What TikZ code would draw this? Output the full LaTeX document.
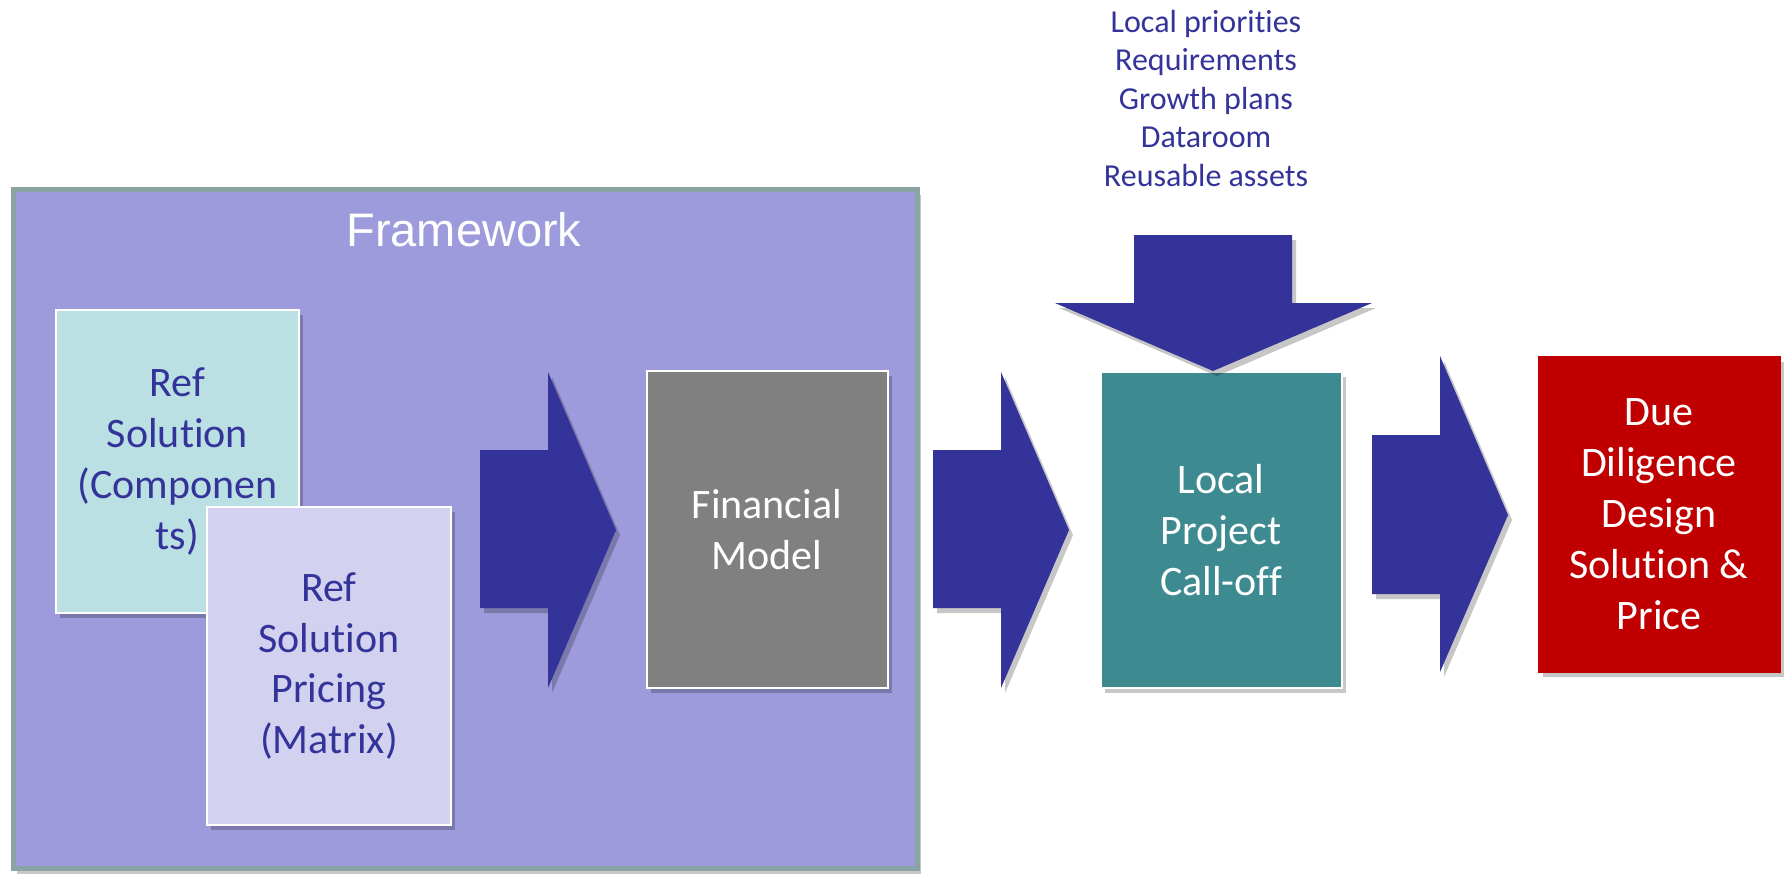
\documentclass[tikz,border=0pt]{standalone}
\usepackage{fontspec}
\setmainfont[Ligatures=NoCommon]{Carlito}
\newfontfamily\arialfont{Liberation Sans}
\definecolor{frameback}{RGB}{158,155,220}
\definecolor{frameline}{RGB}{138,163,163}
\definecolor{refteal}{RGB}{187,224,227}
\definecolor{reflilac}{RGB}{210,210,240}
\definecolor{modelgrey}{RGB}{128,128,128}
\definecolor{localteal}{RGB}{62,138,145}
\definecolor{dueRed}{RGB}{192,0,0}
\definecolor{inkblue}{RGB}{51,51,153}
\usetikzlibrary{shadows}
\tikzset{
    softshadow/.style={drop shadow={shadow xshift=2pt, shadow yshift=-2.5pt, opacity=0.22, fill=black}},
    stagebox/.style={rectangle, draw=white, line width=1pt, minimum width=120.5pt, minimum height=158pt,
                     align=center, font=\fontsize{21}{25.5}\selectfont, softshadow},
    bigarrow/.style={fill=inkblue, softshadow},
}

\begin{document}
\begin{tikzpicture}[x=0.5pt, y=-0.5pt]
    \useasboundingbox (0,0) rectangle (1789,874);

    \node[rectangle, draw=frameline, fill=frameback, line width=2.5pt, minimum width=452pt, minimum height=339.5pt, softshadow] (framework) at (465,529) {};
    \node[text=white, font=\arialfont\fontsize{23.5}{28}\selectfont] (frametitle) at (464,230) {Framework};

    \node[stagebox, fill=refteal, text=inkblue, minimum width=121.5pt, minimum height=151.5pt] (components) at (177.5,461.5) {Ref\\Solution\\(Componen\\ts)};
    \node[stagebox, fill=reflilac, text=inkblue, minimum width=122pt, minimum height=159pt] (pricing) at (329,666) {Ref\\Solution\\Pricing\\(Matrix)};

    \fill[bigarrow] (480,450) -- (548,450) -- (548,372) -- (616,530) -- (548,688) -- (548,608) -- (480,608) -- cycle;

    \node[stagebox, fill=modelgrey, text=white, minimum height=158.5pt] (model) at (767,529.5) {Financial\\Model};

    \fill[bigarrow] (933,450) -- (1001,450) -- (1001,372) -- (1069,530) -- (1001,688) -- (1001,608) -- (933,608) -- cycle;

    \node[stagebox, fill=localteal, text=white] (calloff) at (1221,530) {Local\\Project\\Call-off};

    \node[text=inkblue, align=center, font=\fontsize{16}{19.25}\selectfont] (inputs) at (1206,98)
        {Local priorities\\Requirements\\Growth plans\\Dataroom\\Reusable assets};
    \fill[bigarrow] (1134,235) -- (1292,235) -- (1292,303) -- (1372,303) -- (1213,371) -- (1055,303) -- (1134,303) -- cycle;

    \fill[bigarrow] (1372,435) -- (1440,435) -- (1440,356) -- (1508,515) -- (1440,672) -- (1440,594) -- (1372,594) -- cycle;

    \node[stagebox, fill=dueRed, text=white, draw=dueRed, minimum height=157.5pt] (duediligence) at (1659,514.5) {Due\\Diligence\\Design\\Solution \&\\Price};
\end{tikzpicture}
\end{document}
